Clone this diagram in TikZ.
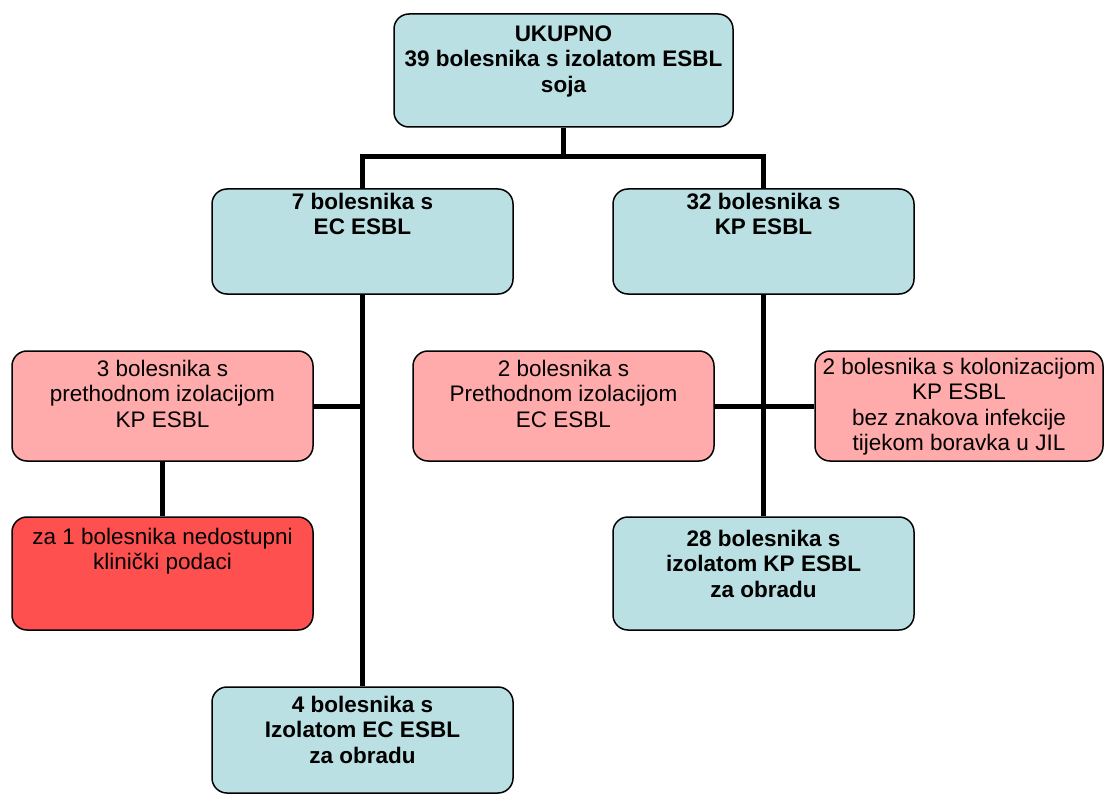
\documentclass[tikz,border=0pt]{standalone}
\usepackage{fontspec}
\setmainfont{Liberation Sans}
\definecolor{cyanfill}{HTML}{BBE0E3}
\definecolor{pinkfill}{HTML}{FFABAB}
\definecolor{redfill}{HTML}{FF5050}
\begin{document}
\begin{tikzpicture}[x=1pt,y=-1pt,
  box/.style={draw=black,line width=1.5pt,rounded corners=15pt,inner sep=0pt,minimum width=301pt,minimum height=#1},
  box/.default=105pt,
  txt/.style={align=center,inner sep=0pt,anchor=base,font=\fontsize{22.5}{25.5}\selectfont},
  conn/.style={line width=5pt}]
\useasboundingbox (0,0) rectangle (1105,794);
% boxes
\node[box=113pt,fill=cyanfill,minimum width=339pt] (top) at (563.5,70.5) {};
\node[box,fill=cyanfill] (lmid) at (362.5,241.5) {};
\node[box,fill=cyanfill] (rmid) at (763.5,241.5) {};
\node[box=110pt,fill=pinkfill] (pl) at (162.5,406) {};
\node[box=110pt,fill=pinkfill] (pm) at (563.5,406) {};
\node[box=110pt,fill=pinkfill,minimum width=288pt] (pr) at (959,406) {};
\node[box=113pt,fill=redfill] (red) at (162.5,573.5) {};
\node[box=113pt,fill=cyanfill] (br) at (763.5,573.5) {};
\node[box=106pt,fill=cyanfill] (bl) at (362.5,740) {};
% connectors
\coordinate (j) at (563.5,157);
\draw[conn] (top.south) -- (j);
\draw[conn] (lmid.north) |- (j) -| (rmid.north);
\draw[conn] (lmid.south) -- (bl.north);
\draw[conn] (pl.east) -- (pl.east -| lmid.south);
\draw[conn] (pl.south) -- (red.north);
\draw[conn] (rmid.south) -- (br.north);
\draw[conn] (pm.east) -- (pr.west);
% texts (anchor base = baseline of last line)
\node[txt] (ttop) at ([yshift=-79pt]top.north) {\bfseries UKUPNO\\\bfseries 39 bolesnika s izolatom ESBL\\\bfseries soja};
\node[txt] (tlmid) at ([yshift=-46.5pt]lmid.north) {\bfseries 7 bolesnika s\\\bfseries EC ESBL};
\node[txt] (trmid) at ([yshift=-46.5pt]rmid.north) {\bfseries 32 bolesnika s\\\bfseries KP ESBL};
\node[txt] (tpl) at ([yshift=-77pt]pl.north) {3 bolesnika s\\prethodnom izolacijom\\KP ESBL};
\node[txt] (tpm) at ([yshift=-77pt]pm.north) {2 bolesnika s\\Prethodnom izolacijom\\EC ESBL};
\node[txt] (tpr) at ([yshift=-100.5pt]pr.north) {2 bolesnika s kolonizacijom\\KP ESBL\\bez znakova infekcije\\tijekom boravka u JIL};
\node[txt] (tred) at ([yshift=-53.5pt]red.north) {za 1 bolesnika nedostupni\\klinički podaci};
\node[txt] (tbr) at ([yshift=-81pt]br.north) {\bfseries 28 bolesnika s\\\bfseries izolatom KP ESBL\\\bfseries za obradu};
\node[txt] (tbl) at ([yshift=-77pt]bl.north) {\bfseries 4 bolesnika s\\\bfseries Izolatom EC ESBL\\\bfseries za obradu};
\end{tikzpicture}
\end{document}
